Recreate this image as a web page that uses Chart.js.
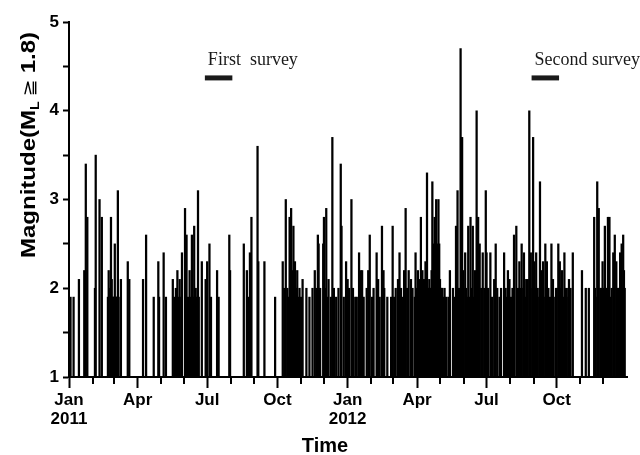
<!DOCTYPE html>
<html>
<head>
<meta charset="utf-8">
<script src="https://cdn.jsdelivr.net/npm/chart.js@4.4.1/dist/chart.umd.min.js"></script>
<style>
  html, body { margin: 0; padding: 0; background: #fff; }
  #wrap { width: 640px; height: 455px; position: relative; }
</style>
</head>
<body>
<div id="wrap"><canvas id="quakes" width="640" height="455"></canvas></div>
<script>
// Event dates (one entry per earthquake, ML >= 1.8)
const eventDates = [
  '2011-01-03','2011-01-07','2011-01-14','2011-01-21','2011-01-23','2011-01-25',
  '2011-02-04','2011-02-05','2011-02-10','2011-02-13','2011-02-21','2011-02-22','2011-02-24','2011-02-25','2011-02-26','2011-02-27','2011-02-28',
  '2011-03-01','2011-03-02','2011-03-03','2011-03-04','2011-03-05','2011-03-06','2011-03-07','2011-03-10','2011-03-19','2011-03-21',
  '2011-04-08','2011-04-12','2011-04-22','2011-04-28','2011-04-29',
  '2011-05-05','2011-05-08','2011-05-17','2011-05-19','2011-05-21','2011-05-23','2011-05-24','2011-05-26','2011-05-28','2011-05-29',
  '2011-06-02','2011-06-04','2011-06-06','2011-06-08','2011-06-10','2011-06-11','2011-06-13','2011-06-14','2011-06-16','2011-06-17','2011-06-19','2011-06-20','2011-06-24','2011-06-29','2011-06-30',
  '2011-07-01','2011-07-04','2011-07-06','2011-07-14','2011-07-16','2011-07-30','2011-07-31',
  '2011-08-18','2011-08-22','2011-08-24','2011-08-26','2011-08-28',
  '2011-09-05','2011-09-06','2011-09-14','2011-09-28',
  '2011-10-08','2011-10-10','2011-10-12','2011-10-14','2011-10-15','2011-10-17','2011-10-19','2011-10-20','2011-10-22','2011-10-24','2011-10-26','2011-10-27','2011-10-29','2011-10-30',
  '2011-11-01','2011-11-03','2011-11-08','2011-11-12','2011-11-16','2011-11-19','2011-11-21','2011-11-23','2011-11-24','2011-11-26','2011-11-30',
  '2011-12-01','2011-12-03','2011-12-04','2011-12-06','2011-12-07','2011-12-10','2011-12-12','2011-12-14','2011-12-17','2011-12-20','2011-12-23','2011-12-24','2011-12-27','2011-12-30',
  '2012-01-01','2012-01-03','2012-01-06','2012-01-08','2012-01-11','2012-01-13','2012-01-16','2012-01-18','2012-01-20','2012-01-22','2012-01-26','2012-01-28','2012-01-30',
  '2012-02-02','2012-02-04','2012-02-08','2012-02-10','2012-02-12','2012-02-15','2012-02-17','2012-02-18','2012-02-22','2012-02-27','2012-02-29',
  '2012-03-02','2012-03-04','2012-03-07','2012-03-09','2012-03-11','2012-03-13','2012-03-15','2012-03-17','2012-03-19','2012-03-21','2012-03-24','2012-03-26','2012-03-29','2012-03-30','2012-03-31',
  '2012-04-02','2012-04-03','2012-04-04','2012-04-05','2012-04-06','2012-04-07','2012-04-08','2012-04-09','2012-04-10','2012-04-11','2012-04-12','2012-04-13','2012-04-14','2012-04-15','2012-04-16',
  '2012-04-17','2012-04-18','2012-04-19','2012-04-20','2012-04-21','2012-04-22','2012-04-23','2012-04-24','2012-04-25','2012-04-26','2012-04-27','2012-04-28','2012-04-29','2012-04-30',
  '2012-05-01','2012-05-02','2012-05-03','2012-05-04','2012-05-05','2012-05-07','2012-05-09','2012-05-12','2012-05-14','2012-05-18','2012-05-20','2012-05-22','2012-05-24','2012-05-26','2012-05-28','2012-05-30','2012-05-31',
  '2012-06-01','2012-06-03','2012-06-04','2012-06-06','2012-06-07','2012-06-08','2012-06-10','2012-06-11','2012-06-13','2012-06-14','2012-06-16','2012-06-18','2012-06-19','2012-06-20','2012-06-22','2012-06-24','2012-06-26','2012-06-28','2012-06-30',
  '2012-07-01','2012-07-03','2012-07-06','2012-07-08','2012-07-11','2012-07-13','2012-07-15','2012-07-18','2012-07-20','2012-07-24','2012-07-26','2012-07-28','2012-07-29','2012-07-31',
  '2012-08-02','2012-08-04','2012-08-06','2012-08-09','2012-08-10','2012-08-11','2012-08-13','2012-08-15','2012-08-16','2012-08-18','2012-08-19','2012-08-21','2012-08-22','2012-08-24','2012-08-26','2012-08-28','2012-08-30','2012-08-31',
  '2012-09-01','2012-09-03','2012-09-04','2012-09-06','2012-09-08','2012-09-09','2012-09-11','2012-09-13','2012-09-14','2012-09-16','2012-09-18','2012-09-20','2012-09-22','2012-09-24','2012-09-26','2012-09-29','2012-09-30',
  '2012-10-01','2012-10-03','2012-10-05','2012-10-06','2012-10-08','2012-10-10','2012-10-11','2012-10-13','2012-10-14','2012-10-16','2012-10-17','2012-10-19','2012-10-22',
  '2012-11-03','2012-11-08','2012-11-12','2012-11-19','2012-11-20','2012-11-21','2012-11-23','2012-11-25','2012-11-27','2012-11-28','2012-11-30',
  '2012-12-01','2012-12-03','2012-12-04','2012-12-05','2012-12-07','2012-12-09','2012-12-10','2012-12-12','2012-12-14','2012-12-15','2012-12-16','2012-12-18','2012-12-20','2012-12-21','2012-12-23','2012-12-25','2012-12-26','2012-12-27','2012-12-28','2012-12-29'
];

// Local magnitude of each event, same order as eventDates
const magnitudes = [
  1.9,1.9,2.1,2.2,3.4,2.8,
  2.0,3.5,3.0,2.8,1.9,2.2,2.0,2.8,2.1,1.9,1.9,
  1.9,2.5,1.9,1.9,1.9,3.1,1.9,2.1,2.3,2.1,
  2.1,2.6,1.9,2.3,1.9,
  2.4,1.9,2.1,1.9,2.0,2.2,1.9,2.1,1.9,2.4,
  2.9,2.6,1.9,2.2,1.9,2.6,1.9,2.7,2.0,1.9,3.1,1.9,2.3,2.1,1.9,
  2.3,2.5,1.9,2.2,1.9,2.6,2.2,
  2.5,2.2,1.9,2.4,2.8,
  3.6,2.3,2.3,1.9,
  2.3,2.0,3.0,2.0,1.9,2.8,2.9,2.2,2.7,2.3,2.0,2.2,1.9,2.0,
  1.9,2.1,2.0,1.9,2.0,2.2,2.0,2.6,2.5,2.0,2.5,
  2.8,2.0,2.9,1.9,2.1,1.9,3.7,2.0,1.9,2.0,3.4,2.7,1.9,2.3,
  2.1,2.0,3.0,2.0,1.9,1.9,2.4,2.2,2.2,1.9,2.0,2.2,2.6,
  1.9,2.0,2.4,2.1,1.9,2.7,2.2,2.0,1.9,1.9,2.7,
  1.9,2.0,2.1,2.4,2.0,1.9,2.2,2.9,2.0,2.2,2.1,2.0,1.9,2.4,2.0,
  2.2,2.0,2.0,2.1,2.8,2.0,2.2,2.0,2.1,2.0,2.3,2.1,3.3,2.0,2.0,
  2.1,2.0,2.0,2.2,3.2,2.5,2.3,2.8,2.5,3.0,2.5,2.4,3.0,2.5,
  2.1,2.0,2.0,2.0,1.9,2.0,1.9,1.9,2.2,2.0,1.9,2.7,3.1,2.0,4.7,3.7,2.2,
  2.0,2.4,2.0,1.9,2.7,1.9,2.8,2.0,2.7,1.9,2.2,4.0,2.1,2.8,2.5,2.0,2.4,2.0,3.1,
  2.4,2.0,2.4,1.9,2.1,2.5,2.0,1.9,2.0,2.4,2.0,1.9,2.2,2.1,
  1.9,2.0,2.6,2.7,1.9,2.0,2.3,2.0,2.5,2.0,2.4,1.9,2.1,2.1,4.0,2.4,2.0,3.7,
  2.3,2.0,2.4,2.0,1.9,3.2,2.2,2.3,1.9,2.5,2.3,2.0,1.9,2.5,2.1,1.9,2.0,
  2.0,2.5,2.3,2.0,2.2,1.9,2.4,2.0,1.9,2.0,2.1,2.0,2.4,
  2.2,2.0,2.0,2.8,2.0,1.9,3.2,2.9,2.0,2.0,2.3,
  2.0,2.7,2.0,2.0,2.8,2.8,1.9,2.0,2.4,2.0,2.6,2.3,2.0,2.0,2.4,2.5,2.0,2.6,2.2,2.0
];

// Field survey campaigns
const surveyNames = ['First  survey', 'Second survey'];
const surveyStarts = ['2011-06-28', '2012-08-29'];
const surveyEnds = ['2011-08-03', '2012-10-04'];
const surveyLevel = 4.37;

// Time axis: labelled quarter starts
const quarterDates = ['2011-01-01','2011-04-01','2011-07-01','2011-10-01','2012-01-01','2012-04-01','2012-07-01','2012-10-01'];
const quarterLabels = [['Jan','2011'],['Apr'],['Jul'],['Oct'],['Jan','2012'],['Apr'],['Jul'],['Oct']];
const axisStart = '2011-01-01';
const axisEnd = '2013-01-01';

// Magnitude axis
const magTicks = [1, 1.5, 2, 2.5, 3, 3.5, 4, 4.5, 5];

const dayNum = s => (Date.parse(s + 'T00:00:00Z') - Date.parse(axisStart + 'T00:00:00Z')) / 864e5;

const quarterDays = quarterDates.map(dayNum);
const monthDays = [];
for (let y = 2011; y <= 2012; y++) {
  for (let m = 0; m < 12; m++) {
    monthDays.push((Date.UTC(y, m, 1) - Date.UTC(2011, 0, 1)) / 864e5);
  }
}

const eventPoints = eventDates.map((d, i) => ({ x: dayNum(d), y: magnitudes[i] }));

const surveyDatasets = surveyStarts.map((s, i) => ({
  type: 'line',
  data: [{ x: dayNum(s), y: surveyLevel }, { x: dayNum(surveyEnds[i]), y: surveyLevel }],
  borderColor: '#1a1a1a',
  borderWidth: 5,
  borderCapStyle: 'butt',
  pointRadius: 0,
  fill: false,
  order: 0
}));

// Extra drawing: minor month ticks, survey captions, axis titles
const decorations = {
  id: 'decorations',
  afterDraw(chart) {
    const { ctx, scales: { x, y } } = chart;
    ctx.save();

    // minor monthly ticks below the time axis
    ctx.strokeStyle = '#000';
    ctx.lineWidth = 2;
    const base = y.getPixelForValue(1);
    monthDays.forEach(d => {
      if (quarterDays.includes(d)) return;
      const px = Math.round(x.getPixelForValue(d));
      ctx.beginPath();
      ctx.moveTo(px, base);
      ctx.lineTo(px, base + 7);
      ctx.stroke();
    });

    // survey captions above their bars
    ctx.fillStyle = '#1a1a1a';
    ctx.font = '18px "Liberation Serif", "Times New Roman", serif';
    ctx.textAlign = 'left';
    ctx.textBaseline = 'alphabetic';
    surveyNames.forEach((name, i) => {
      const px = x.getPixelForValue(dayNum(surveyStarts[i]));
      ctx.fillText(name, px + 3, y.getPixelForValue(surveyLevel) - 13);
    });

    // x-axis title
    ctx.fillStyle = '#000';
    ctx.font = 'bold 20px "Liberation Sans", Arial, sans-serif';
    ctx.textAlign = 'center';
    ctx.fillText('Time', 325, 452);

    // y-axis title, rotated, with subscript L
    ctx.translate(35, 258);
    ctx.rotate(-Math.PI / 2);
    ctx.scale(1.2, 1);
    ctx.textAlign = 'left';
    let cx = 0;
    const part = (text, font, dy) => {
      ctx.font = font;
      ctx.fillText(text, cx, dy);
      cx += ctx.measureText(text).width;
    };
    const bold = 'bold 20px "Liberation Sans", Arial, sans-serif';
    part('Magnitude(M', bold, 0);
    part('L', 'bold 12px "Liberation Sans", Arial, sans-serif', 4);
    cx += 4;
    part('\u2267', '17px "DejaVu Sans", sans-serif', 0);
    cx += 5;
    part('1.8)', bold, 0);

    ctx.restore();
  }
};

new Chart(document.getElementById('quakes'), {
  type: 'bar',
  data: {
    datasets: [
      {
        type: 'bar',
        data: eventPoints,
        backgroundColor: '#000',
        barThickness: 1.6,
        base: 1,
        grouped: false,
        order: 1
      },
      ...surveyDatasets
    ]
  },
  options: {
    responsive: false,
    animation: false,
    devicePixelRatio: 1,
    layout: { padding: { top: 22, right: 13, left: 0, bottom: 0 } },
    plugins: { legend: { display: false }, tooltip: { enabled: false } },
    scales: {
      x: {
        type: 'linear',
        min: dayNum(axisStart),
        max: dayNum(axisEnd),
        offset: false,
        afterBuildTicks: s => { s.ticks = quarterDays.map(v => ({ value: v })); },
        afterFit: s => { s.height = 78; },
        ticks: {
          autoSkip: false,
          maxRotation: 0,
          padding: 3,
          color: '#000',
          font: { family: '"Liberation Sans", Arial, sans-serif', weight: 'bold', size: 17, lineHeight: 1.1 },
          callback: (v, i) => quarterLabels[i]
        },
        grid: { offset: false, drawOnChartArea: false, tickLength: 11, tickWidth: 2, tickColor: '#000' },
        border: { display: true, width: 2, color: '#000' }
      },
      y: {
        min: 1,
        max: 5,
        afterBuildTicks: s => { s.ticks = magTicks.map(v => ({ value: v })); },
        afterFit: s => { s.width = 69; },
        ticks: {
          padding: 4,
          color: '#000',
          font: { family: '"Liberation Sans", Arial, sans-serif', weight: 'bold', size: 17 },
          callback: v => (Number.isInteger(v) ? String(v) : '')
        },
        grid: { offset: false, drawOnChartArea: false, tickLength: 6, tickWidth: 2, tickColor: '#000' },
        border: { display: true, width: 2, color: '#000' }
      }
    }
  },
  plugins: [decorations]
});
</script>
</body>
</html>
